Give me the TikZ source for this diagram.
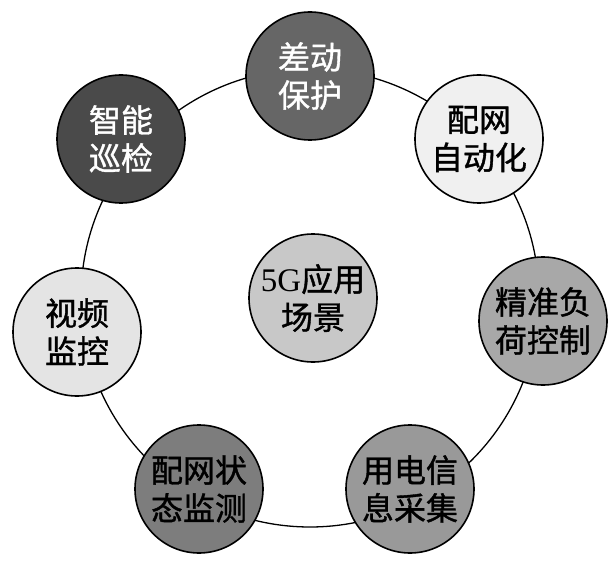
\documentclass[tikz,border=0pt]{standalone}
\usepackage{fontspec}
\setmainfont{Liberation Serif}
\newfontfamily\cjk{Noto Sans CJK SC}[FakeBold=1.2]
\definecolor{cA}{HTML}{666666}
\definecolor{cB}{HTML}{F0F0F0}
\definecolor{cC}{HTML}{A8A8A8}
\definecolor{cD}{HTML}{999999}
\definecolor{cE}{HTML}{7D7D7D}
\definecolor{cF}{HTML}{E4E4E4}
\definecolor{cG}{HTML}{4A4A4A}
\definecolor{cH}{HTML}{C8C8C8}
\tikzset{
  bubble/.style={circle, draw=black, line width=1.6pt, minimum size=128pt, inner sep=0pt,
    align=center, font=\cjk\fontsize{32}{38}\selectfont},
  ring/.style={draw=black, line width=1.3pt}
}
\begin{document}
\begin{tikzpicture}[x=1pt,y=1pt]
\useasboundingbox (0,0) rectangle (613,566);
\coordinate (rc) at (310,268);
\draw[ring] (rc) circle[radius=229];
\node[bubble, fill=cA, text=white] (cd) at (310,490) {差动\\保护};
\node[bubble, fill=cB] (pz) at (479,427) {配网\\自动化};
\node[bubble, fill=cC] (jz) at (543,245) {精准负\\荷控制};
\node[bubble, fill=cD] (yd) at (410,77) {用电信\\息采集};
\node[bubble, fill=cE] (pw) at (199,77) {配网状\\态监测};
\node[bubble, fill=cF] (sp) at (77,234) {视频\\监控};
\node[bubble, fill=cG, text=white] (zn) at (121,427) {智能\\巡检};
\node[bubble, fill=cH] (ct) at (313,268) {{\rmfamily\fontsize{33}{38}\selectfont 5G}应用\\场景};
\end{tikzpicture}
\end{document}
